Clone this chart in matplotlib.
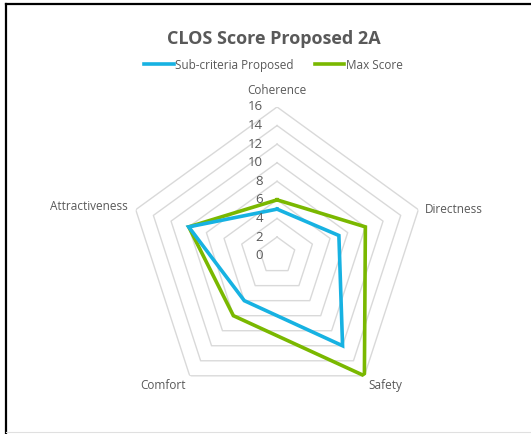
import numpy as np
import matplotlib.pyplot as plt
from matplotlib.lines import Line2D

plt.rcParams['font.family'] = ['Open Sans', 'DejaVu Sans']

# data
categories = ["Coherence", "Directness", "Safety", "Comfort", "Attractiveness"]
proposed = [5, 7, 12, 6, 10]
max_score = [6, 10, 16, 8, 10]
ring_values = [2, 4, 6, 8, 10, 12, 14, 16]
tick_labels = ["0", "2", "4", "6", "8", "10", "12", "14", "16"]

blue = "#17B2E2"
green = "#7AB800"
grey_text = "#595959"
grid_col = "#D9D9D9"

fig = plt.figure(figsize=(5.31, 4.34), dpi=100)
ax = fig.add_axes([0.2419, 0.0687, 0.5597, 0.6848], projection="polar")
ax.set_theta_offset(np.pi / 2)
ax.set_theta_direction(-1)
ax.set_ylim(0, 16)
ax.grid(False)
ax.spines["polar"].set_visible(False)
ax.set_xticks([])
ax.set_yticks([])
ax.patch.set_alpha(0)

n = len(categories)
angles = np.linspace(0, 2 * np.pi, n, endpoint=False)
closed = np.append(angles, angles[0])

# pentagon gridlines
for r in ring_values:
    ax.plot(closed, [r] * (n + 1), color=grid_col, lw=1.0, zorder=1)

# series
ax.plot(closed, proposed + proposed[:1], color=blue, lw=2.6, zorder=3,
        solid_joinstyle="miter", label="Sub-criteria Proposed")
ax.plot(closed, max_score + max_score[:1], color=green, lw=2.6, zorder=2,
        solid_joinstyle="miter", label="Max Score")

# tick labels along the top axis
for i, lab in enumerate(tick_labels):
    ax.annotate(lab, xy=(0, i * 2), xytext=(-10, 0), textcoords="offset points",
                ha="right", va="center", fontsize=9.5, color=grey_text)

# category labels
lab_pos = {
    "Coherence": (0, 7, "center", "bottom"),
    "Directness": (5, 0, "left", "center"),
    "Safety": (3, -2, "left", "top"),
    "Comfort": (-3, -2, "right", "top"),
    "Attractiveness": (-6, 2, "right", "center"),
}
for a, name in zip(angles, categories):
    dx, dy, ha, va = lab_pos[name]
    ax.annotate(name, xy=(a, 16), xytext=(dx, dy), textcoords="offset points",
                ha=ha, va=va, fontsize=8.5, color=grey_text)

fig.text(0.515, 0.91, "CLOS Score Proposed 2A", ha="center", va="center",
         fontsize=13, fontweight="bold", color=grey_text)

fig.legend(loc="center", bbox_to_anchor=(0.515, 0.85), ncol=2, frameon=False,
           fontsize=8.5, labelcolor=grey_text, handlelength=2.5, handletextpad=0.1,
           columnspacing=1.8)

# chart frame
fig.add_artist(Line2D([0.0105, 1.0], [0.990, 0.990], color="black", lw=1.6,
                      transform=fig.transFigure))
fig.add_artist(Line2D([0.0105, 0.0105], [0.0, 0.990], color="black", lw=1.6,
                      transform=fig.transFigure))
fig.add_artist(Line2D([0.0105, 1.0], [0.004, 0.004], color="#E0E0E0", lw=0.8,
                      transform=fig.transFigure))

fig.savefig("out.png", dpi=100)
